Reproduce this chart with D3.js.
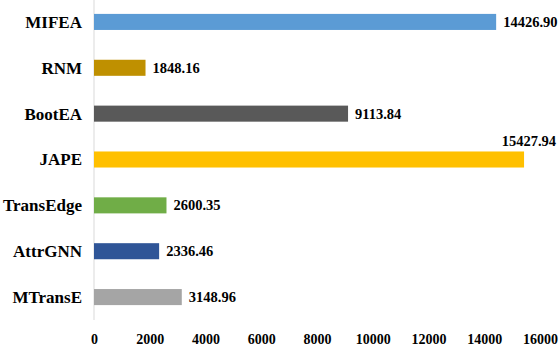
<!DOCTYPE html>
<html><head><meta charset="utf-8">
<script src="https://cdn.jsdelivr.net/npm/d3@7"></script>
<style>body{margin:0;background:#fff}svg{display:block}</style>
</head><body>
<script>
const categories = ["MIFEA","RNM","BootEA","JAPE","TransEdge","AttrGNN","MTransE"];
const values = [14426.90, 1848.16, 9113.84, 15427.94, 2600.35, 2336.46, 3148.96];
const colors = ["#5B9BD5","#BF9000","#595959","#FFC000","#70AD47","#2F5597","#A5A5A5"];
const ticks = [0,2000,4000,6000,8000,10000,12000,14000,16000];

const W=559,H=352;
const svg=d3.select("body").append("svg").attr("width",W).attr("height",H);
const x=d3.scaleLinear().domain([0,16000]).range([94,540]);
const y=d3.scaleBand().domain(categories).range([-1,320]).paddingInner(0.65).paddingOuter(0.325);
const font="'Liberation Serif','Times New Roman',serif";

svg.append("line").attr("x1",x(0)).attr("x2",x(0)).attr("y1",0).attr("y2",320)
  .attr("stroke","#d9d9d9").attr("stroke-width",1);

svg.selectAll("rect.bar").data(categories).enter().append("rect").attr("class","bar")
  .attr("x",x(0)).attr("y",d=>y(d)).attr("height",y.bandwidth())
  .attr("width",(d,i)=>x(values[i])-x(0)).attr("fill",(d,i)=>colors[i]);

svg.selectAll("text.cat").data(categories).enter().append("text").attr("class","cat")
  .attr("x",82).attr("y",d=>y(d)+y.bandwidth()/2).attr("dy","0.35em")
  .attr("text-anchor","end").attr("font-family",font).attr("font-weight","bold")
  .attr("font-size",17).attr("fill","#000").text(d=>d);

svg.selectAll("text.val").data(categories).enter().append("text").attr("class","val")
  .attr("font-family",font).attr("font-weight","bold").attr("font-size",14.5)
  .attr("fill","#000").text((d,i)=>values[i].toFixed(2))
  .each(function(d,i){
    const t=d3.select(this);
    const w=this.getComputedTextLength();
    if(x(values[i])+7+w>W-1){
      t.attr("x",W-3).attr("y",y(d)-5).attr("text-anchor","end");
    } else {
      t.attr("x",x(values[i])+7).attr("y",y(d)+y.bandwidth()/2).attr("dy","0.35em");
    }
  });

const ax=d3.axisBottom(x).tickValues(ticks).tickSize(0).tickPadding(0).tickFormat(d3.format("d"));
const g=svg.append("g").attr("transform","translate(0,334)").call(ax);
g.select(".domain").remove();
g.selectAll("text").attr("font-family",font).attr("font-weight","bold").attr("font-size",14).attr("fill","#000");
</script>
</body></html>
